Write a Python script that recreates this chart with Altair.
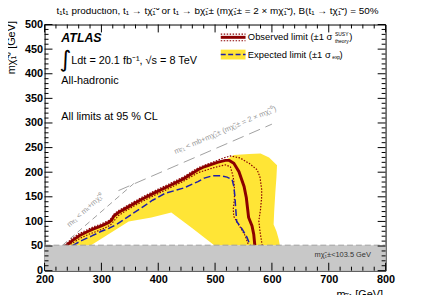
import altair as alt
import pandas as pd

# ---------------- data ----------------
obs_x = [238, 250, 261, 275, 284, 300, 313, 318, 322, 330, 345, 371, 395, 417, 445, 470, 481, 504, 518, 525, 533, 542, 551, 555, 557, 559, 565, 568, 570]
obs_y = [51, 62, 71, 79, 84, 91, 98, 103, 111, 118, 128, 145, 159, 171, 187, 205, 211, 220, 224, 224, 218, 201, 171, 148, 128, 108, 91, 74, 51]

exp_x = [249, 265, 284, 300, 313, 327, 340, 355, 371, 390, 412, 430, 445, 470, 481, 496, 510, 521, 530, 533, 535, 536, 538, 548, 556, 562]
exp_y = [51, 61, 71, 80, 86, 94, 104, 116, 128, 143, 157, 163, 168, 181, 188, 193, 193, 190, 185, 171, 150, 131, 100, 84, 68, 51]

thup_x = [235, 248, 260, 275, 284, 300, 313, 318, 322, 330, 345, 371, 395, 417, 445, 470, 504, 515, 527, 544, 560, 574, 579, 582, 582, 580, 577, 579, 581, 583]
thup_y = [51, 65, 75, 83, 88, 95, 102, 107, 115, 122, 132, 149, 163, 175, 191, 209, 224, 229, 233, 229, 218, 205, 190, 165, 150, 125, 101, 80, 65, 51]

thdn_x = [241, 252, 263, 278, 292, 307, 316, 322, 330, 345, 371, 395, 417, 445, 470, 500, 518, 527, 532, 534, 534, 532, 533, 539, 546, 553, 559]
thdn_y = [51, 58, 66, 74, 80, 87, 93, 101, 112, 123, 140, 154, 166, 182, 199, 210, 215, 211, 190, 170, 145, 125, 110, 98, 85, 71, 51]

band_x = [236, 250, 261, 275, 284, 300, 313, 318, 322, 330, 345, 371, 395, 417, 445, 470, 481, 504, 520, 533, 560, 580, 595, 609, 608, 606, 604, 603, 608, 612, 614,
          499, 460, 423, 388, 348, 281]
band_y = [51, 62, 71, 79, 84, 91, 98, 103, 111, 118, 128, 145, 159, 171, 187, 205, 211, 220, 226, 235, 237, 238, 230, 214, 190, 158, 120, 94, 80, 64, 51,
          51, 86, 118, 108, 100, 51]

kin1_x = [231.75, 357]
kin1_y = [51.75, 177]
kin2_x = [330, 600]
kin2_y = [162.6, 297.6]

lep_limit = 51.75

x_major = [200, 300, 400, 500, 600, 700, 800]
x_minor = [v for v in range(200, 801, 20) if v % 100]
y_major = [0, 50, 100, 150, 200, 250, 300, 350, 400, 450, 500]
y_minor = [v for v in range(0, 501, 10) if v % 50]

W, H = 345, 249
FONT = "Liberation Sans"
YELLOW = "#ffe536"
RED = "#8b0000"
BLUE = "#1f1fa8"
GREY = "#c8c8c8"

xs = alt.Scale(domain=[200, 800], nice=False, zero=False)
ys = alt.Scale(domain=[0, 500], nice=False, zero=False)

x_axis = alt.Axis(values=x_major, ticks=False, grid=False, domain=False, labelFont=FONT,
                  labelFontWeight="bold", labelFontSize=11, labelColor="black", labelPadding=3,
                  labelFlush=False, labelOverlap=False, title="m\u209c\u0303\u2081 [GeV]",
                  titleFont=FONT, titleFontSize=11, titleFontWeight="normal", titleColor="black",
                  titleAlign="right", titleBaseline="top", titleX=342, titleY=18)
y_axis = alt.Axis(values=y_major, ticks=False, grid=False, domain=False, labelFont=FONT,
                  labelFontWeight="bold", labelFontSize=11, labelColor="black", labelPadding=2,
                  labelFlush=False, labelOverlap=False, title="m\u03c7\u0303\u2081\u2070 [GeV]",
                  titleFont=FONT, titleFontSize=11, titleFontWeight="normal", titleColor="black",
                  titleAngle=270, titleAlign="right", titleBaseline="bottom", titleX=-28, titleY=-4)

X = alt.X("x:Q", scale=xs, axis=x_axis)
Y = alt.Y("y:Q", scale=ys, axis=y_axis)


def pts(xv, yv):
    return pd.DataFrame({"x": xv, "y": yv, "i": list(range(len(xv)))})


def line(xv, yv, **kw):
    return alt.Chart(pts(xv, yv)).mark_line(**kw).encode(x=X, y=Y, order="i:Q")


band = alt.Chart(pts(band_x, band_y)).mark_line(
    filled=True, interpolate="linear-closed", color=YELLOW, strokeWidth=0
).encode(x=X, y=Y, order="i:Q")

grey_box = alt.Chart(pd.DataFrame({"x": [200], "x2": [800], "y": [0], "y2": [lep_limit]})).mark_rect(
    color=GREY).encode(x=X, x2="x2:Q", y=Y, y2="y2:Q")
grey_line = alt.Chart(pd.DataFrame({"x": [200], "x2": [800], "y": [lep_limit]})).mark_rule(
    color="#a0a0a0", strokeDash=[6, 3], strokeWidth=1).encode(x=X, x2="x2:Q", y=Y)

kin1 = line(kin1_x, kin1_y, color="#a0a0a0", strokeWidth=1, strokeDash=[6, 4])
kin2 = line(kin2_x, kin2_y, color="#a0a0a0", strokeWidth=1, strokeDash=[12, 6])

th_up = line(thup_x, thup_y, color=RED, strokeWidth=1.2, strokeDash=[1.5, 1.5])
th_dn = line(thdn_x, thdn_y, color=RED, strokeWidth=1.2, strokeDash=[1.5, 1.5])
exp_line = line(exp_x, exp_y, color=BLUE, strokeWidth=1.5, strokeDash=[7, 3])
obs_line = line(obs_x, obs_y, color=RED, strokeWidth=3)

# legend samples (data coordinates)
leg_rect = alt.Chart(pd.DataFrame({"x": [510], "x2": [553.6], "y": [429], "y2": [449]})).mark_rect(
    color=YELLOW).encode(x=X, x2="x2:Q", y=Y, y2="y2:Q")
leg_exp = alt.Chart(pd.DataFrame({"x": [510], "x2": [553.6], "y": [439]})).mark_rule(
    color=BLUE, strokeWidth=1.5, strokeDash=[5, 2.5]).encode(x=X, x2="x2:Q", y=Y)
leg_obs = alt.Chart(pd.DataFrame({"x": [510], "x2": [553.6], "y": [474]})).mark_rule(
    color=RED, strokeWidth=3).encode(x=X, x2="x2:Q", y=Y)
leg_th = alt.Chart(pd.DataFrame({"x": [510, 510], "x2": [553.6, 553.6], "y": [480.5, 467]})).mark_rule(
    color=RED, strokeWidth=1.2, strokeDash=[1.5, 1.5]).encode(x=X, x2="x2:Q", y=Y)


def text(x, y, s, size, align="left", **kw):
    return alt.Chart(pd.DataFrame({"x": [x], "y": [y], "t": [s]})).mark_text(
        align=align, baseline="middle", fontSize=size, font=kw.pop("font", FONT),
        color=kw.pop("color", "black"), **kw).encode(x=X, y=Y, text="t:N")


chi1 = "\u03c7\u0303\u2081"
st1 = "t\u0303\u2081"
texts = [
    text(221, 527, f"{st1}{st1} production, {st1} \u2192 t{chi1}\u2070 or {st1} \u2192 b{chi1}\u00b1 "
         f"(m{chi1}\u00b1 = 2 \u00d7 m{chi1}\u2070), B({st1} \u2192 t{chi1}\u2070) = 50%", 10),
    text(229.5, 473, "ATLAS", 12.5, fontWeight="bold", fontStyle="italic"),
    text(236.5, 428, "\u222b", 23, align="center", font="DejaVu Sans"),
    text(247, 425, "Ldt = 20.1 fb\u207b\u00b9, \u221as = 8 TeV", 11),
    text(229.5, 385.5, "All-hadronic", 11),
    text(229.5, 312, "All limits at 95 % CL", 11),
    text(557.7, 474, "Observed limit (\u00b11 \u03c3", 9.5),
    text(711, 481, "SUSY", 5),
    text(711, 467.5, "theory", 5),
    text(736, 474, ")", 9.5),
    text(557.7, 439, "Expected limit (\u00b11 \u03c3", 9.5),
    text(706, 434, "exp", 5),
    text(719, 439, ")", 9.5),
    text(675, 32, f"m{chi1}\u00b1<103.5 GeV", 7.5, color="#333333"),
    text(272.5, 123, f"m\u209c\u0303\u2081 < m\u209c+m{chi1}\u2070", 7.5, align="center", angle=318, color="#999999"),
    text(518, 285, f"m\u209c\u0303\u2081 < mb+m{chi1}\u00b1 (m{chi1}\u00b1 = 2 \u00d7 m{chi1}\u2070)", 7.5,
         align="center", angle=336.6, color="#999999"),
]


def vticks(vals, length, top):
    df = pd.DataFrame({"x": vals})
    if top:
        return alt.Chart(df).mark_rule(color="black", strokeWidth=1).encode(x=X, y=alt.value(0), y2=alt.value(length))
    return alt.Chart(df).mark_rule(color="black", strokeWidth=1).encode(x=X, y=alt.value(H), y2=alt.value(H - length))


def hticks(vals, length, right):
    df = pd.DataFrame({"y": vals})
    if right:
        return alt.Chart(df).mark_rule(color="black", strokeWidth=1).encode(y=Y, x=alt.value(W), x2=alt.value(W - length))
    return alt.Chart(df).mark_rule(color="black", strokeWidth=1).encode(y=Y, x=alt.value(0), x2=alt.value(length))


ticks = [
    vticks(x_major, 8, False), vticks(x_minor, 4, False),
    vticks(x_major, 8, True), vticks(x_minor, 4, True),
    hticks(y_major, 8, False), hticks(y_minor, 4, False),
    hticks(y_major, 8, True), hticks(y_minor, 4, True),
]

chart = alt.layer(
    band, kin1, kin2, th_up, th_dn, exp_line, obs_line, grey_box, grey_line,
    leg_rect, leg_exp, leg_obs, leg_th, *texts, *ticks
).properties(
    width=W, height=H,
    autosize=alt.AutoSizeParams(type="none"),
    padding={"left": 37, "top": 15, "right": 50, "bottom": 30},
).configure_view(stroke="black", strokeWidth=1)

chart.save("out.html", embed_options={"renderer": "svg", "actions": False})
